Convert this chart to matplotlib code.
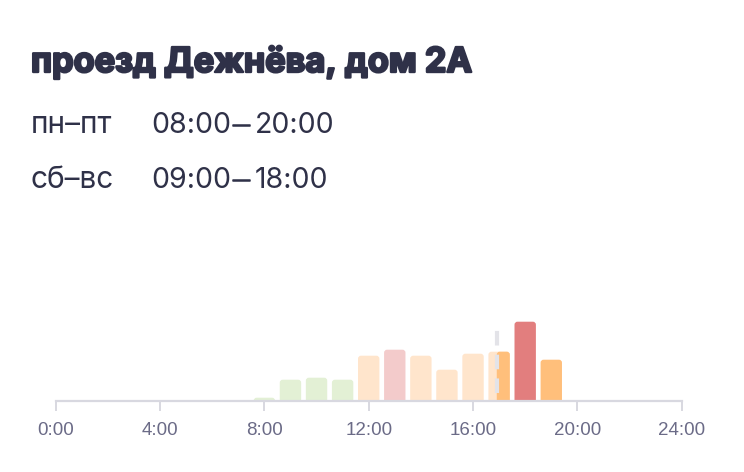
import matplotlib
matplotlib.use('Agg')
import matplotlib.pyplot as plt
import matplotlib.patheffects as pe
from matplotlib.patches import FancyBboxPatch

# data
hours = [8, 9, 10, 11, 12, 13, 14, 15, 16, 17, 18, 19]
load = [3, 21, 23, 21, 45, 51, 45, 31, 47, 49, 79, 41]
bar_colors = ['#e3f0d5', '#e3f0d5', '#e3f0d5', '#e3f0d5', '#ffe5cc', '#f3cbcb',
              '#ffe5cc', '#ffe5cc', '#ffe5cc', '#ffe5cc', '#e27e7e', '#ffbf7b']
now_hour = 16.91
now_color = '#ffbf7b'
tick_hours = [0, 4, 8, 12, 16, 20, 24]
tick_labels = ['0:00', '4:00', '8:00', '12:00', '16:00', '20:00', '24:00']

title = 'проезд Дежнёва, дом 2А'
days = ['пн–пт', 'сб–вс']
opens = ['08:00', '09:00']
closes = ['20:00', '18:00']

W, H = 744, 472
DARK = '#2f3148'
FONT = ['Inter', 'DejaVu Sans']

fig = plt.figure(figsize=(W / 100, H / 100), dpi=100)
fig.patch.set_facecolor('white')


def fy(py):
    return 1 - py / H


# the reference title is heavier than Inter Bold, thicken it with a stroke
fig.text(31 / W, fy(72), title, fontsize=24.7, fontweight='bold',
         family=FONT, color=DARK, va='baseline',
         path_effects=[pe.withStroke(linewidth=1.7, foreground=DARK)])
for i, (d, o, c) in enumerate(zip(days, opens, closes)):
    y = 133 + 55 * i
    fig.text(31 / W, fy(y), d, fontsize=21.5, family=FONT,
             color=DARK, va='baseline')
    fig.text(151 / W, fy(y), o, fontsize=20.5, family=FONT,
             color=DARK, va='baseline')
    fig.text(233 / W, fy(y - 2), '—', fontsize=12.5, family=FONT,
             color=DARK, va='baseline',
             path_effects=[pe.withStroke(linewidth=1.1, foreground=DARK)])
    fig.text(255 / W, fy(y), c, fontsize=20.5, family=FONT,
             color=DARK, va='baseline')

# chart area: 0h at x=55.7px, 24h at x=681.7px, baseline at y=400.7px
x0, x1 = 55.7, 681.7
base = 400.7
ax = fig.add_axes([x0 / W, (H - base) / H, (x1 - x0) / W, 100 / H])
ax.set_xlim(0, 24)
ax.set_ylim(0, 100)

px_per_h = (x1 - x0) / 24
bw = 0.82
r = 3 / px_per_h


def rbar(x_left, width, height, color, z=2):
    p = FancyBboxPatch((x_left, -6), width, height + 6,
                       boxstyle=f'round,pad=0,rounding_size={r}',
                       mutation_aspect=px_per_h, fc=color, ec='none', zorder=z)
    ax.add_patch(p)


for h, v, c in zip(hours, load, bar_colors):
    rbar(h - bw / 2, bw, v, c)
    if h == 17:
        rbar(now_hour, h + bw / 2 - now_hour, v, now_color, z=3)

ax.plot([now_hour, now_hour], [8, 79], color='#e3e3e8', lw=3,
        dashes=(3.5, 2.2), solid_capstyle='butt', zorder=4)

for s in ['top', 'right', 'left']:
    ax.spines[s].set_visible(False)
ax.spines['bottom'].set_color('#d8d8e0')
ax.spines['bottom'].set_linewidth(1.6)
ax.spines['bottom'].set_zorder(5)
ax.set_yticks([])
ax.set_xticks(tick_hours)
ax.set_xticklabels(tick_labels, family=['Liberation Sans'], fontsize=13.5,
                   color='#6b6b87')
ax.tick_params(axis='x', length=7, width=1.4, color='#d8d8e0', pad=8)
ax.patch.set_alpha(0)

fig.savefig('out.png', dpi=100)
